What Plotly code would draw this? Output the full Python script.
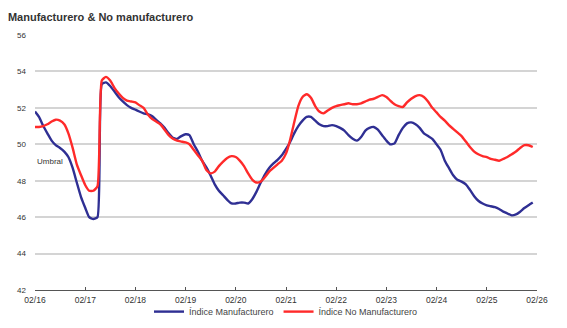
import pandas as pd
import plotly.graph_objects as go

# Monthly index readings, Feb 2016 - Jan 2026
start_month = "2016-02-01"

manufacturero = [
    51.8, 51.5, 51.0, 50.6, 50.2, 49.95, 49.8, 49.6, 49.3, 48.7,
    47.9, 47.1, 46.5, 46.0, 45.9, 46.0, 53.3, 53.4, 53.2, 52.9,
    52.6, 52.35, 52.15, 52.0, 51.9, 51.8, 51.7, 51.65, 51.55, 51.35,
    51.15, 50.9, 50.6, 50.35, 50.3, 50.45, 50.55, 50.5, 50.0, 49.6,
    49.1, 48.75, 48.3, 47.8, 47.45, 47.2, 46.95, 46.75, 46.75, 46.8,
    46.8, 46.75, 47.0, 47.4, 47.9, 48.35, 48.7, 48.95, 49.15, 49.4,
    49.75, 50.1, 50.6, 51.0, 51.3, 51.5, 51.5, 51.3, 51.1, 51.0,
    51.0, 51.05, 51.0, 50.9, 50.75, 50.5, 50.3, 50.2, 50.4, 50.75,
    50.9, 50.95, 50.8, 50.5, 50.2, 50.0, 50.05, 50.5, 50.9, 51.15,
    51.2, 51.1, 50.9, 50.6, 50.45, 50.3, 50.0, 49.7, 49.1, 48.7,
    48.3, 48.05, 47.95, 47.8, 47.5, 47.15, 46.9, 46.75, 46.65, 46.6,
    46.55, 46.45, 46.3, 46.2, 46.1, 46.15, 46.3, 46.5, 46.65, 46.8,
]

no_manufacturero = [
    50.95, 50.95, 51.0, 51.1, 51.25, 51.35, 51.3, 51.1, 50.6, 49.8,
    48.9, 48.3, 47.75, 47.45, 47.45, 47.7, 53.5, 53.7, 53.5, 53.1,
    52.8, 52.55, 52.4, 52.35, 52.3, 52.15, 52.0, 51.65, 51.4, 51.25,
    51.1, 50.8, 50.5, 50.3, 50.2, 50.15, 50.1, 50.0, 49.7, 49.4,
    49.1, 48.6, 48.4, 48.5, 48.8, 49.05, 49.25, 49.35, 49.3, 49.1,
    48.8, 48.4, 48.05, 47.9, 47.95, 48.2, 48.5, 48.7, 48.9, 49.1,
    49.5, 50.2, 51.2, 52.1, 52.6, 52.75, 52.55, 52.1, 51.8, 51.7,
    51.85, 52.0, 52.1, 52.15, 52.2, 52.25, 52.2, 52.2, 52.25, 52.35,
    52.45, 52.5, 52.6, 52.7, 52.6, 52.4, 52.2, 52.1, 52.05, 52.3,
    52.5, 52.65, 52.7, 52.6, 52.35, 52.0, 51.75, 51.5, 51.3, 51.05,
    50.85, 50.65, 50.45, 50.15, 49.85, 49.6, 49.45, 49.35, 49.3, 49.2,
    49.15, 49.1, 49.2, 49.3, 49.45, 49.6, 49.8, 49.95, 49.95, 49.85,
]

umbral = 50
y_ticks = [42, 44, 46, 48, 50, 52, 54, 56]
x_ticks = pd.date_range("2016-02-01", "2026-02-01", freq="12MS")
x_tick_labels = [d.strftime("%m/%y") for d in x_ticks]

dates = pd.date_range(start_month, periods=len(manufacturero), freq="MS")

FONT = "Liberation Sans"
BLUE = "#2f2f93"
RED = "#ff2a2a"

fig = go.Figure()
fig.add_trace(go.Scatter(
    x=dates, y=manufacturero, mode="lines", name="Índice Manufacturero",
    line=dict(color=BLUE, width=2.4, shape="spline", smoothing=0.5),
))
fig.add_trace(go.Scatter(
    x=dates, y=no_manufacturero, mode="lines", name="Índice No Manufacturero",
    line=dict(color=RED, width=2.4, shape="spline", smoothing=0.5),
))

# Threshold line at 50
fig.add_shape(type="line", xref="paper", x0=0, x1=1, yref="y",
              y0=umbral, y1=umbral, line=dict(color="#111111", width=1.6),
              layer="below")
fig.add_annotation(x=0, xref="paper", xanchor="left", y=umbral, yref="y",
                   yanchor="top", yshift=-11, text="Umbral", showarrow=False,
                   font=dict(family=FONT, size=8, color="#333333"))

fig.update_layout(
    width=567, height=328,
    margin=dict(l=35, r=30, t=35, b=38, autoexpand=False),
    paper_bgcolor="white", plot_bgcolor="white",
    title=dict(text="<b>Manufacturero & No manufacturero</b>",
               x=0.014, xanchor="left", y=0.948, yanchor="middle",
               font=dict(family=FONT, size=11, color="#333333")),
    font=dict(family=FONT, size=8, color="#333333"),
    showlegend=True,
    legend=dict(orientation="h", x=0.5, xanchor="center",
                yref="container", y=0.05, yanchor="middle",
                font=dict(family=FONT, size=9, color="#444444"),
                itemwidth=30, bgcolor="rgba(0,0,0,0)"),
)
fig.update_xaxes(
    type="date", range=[x_ticks[0], x_ticks[-1]],
    tickvals=x_ticks, ticktext=x_tick_labels,
    showgrid=False, zeroline=False,
    showline=True, linecolor="#555555", linewidth=1,
    ticks="inside", ticklen=3, tickcolor="#555555",
    ticklabelstandoff=2,
    tickfont=dict(family=FONT, size=8.5, color="#333333"),
)
fig.update_yaxes(
    range=[42, 56], tickvals=y_ticks,
    showgrid=True, gridcolor="#d4d4d4", gridwidth=1.5,
    zeroline=False, showline=False, ticks="",
    ticklabelstandoff=8,
    tickfont=dict(family=FONT, size=8, color="#333333"),
)

fig.write_html("out.html")
